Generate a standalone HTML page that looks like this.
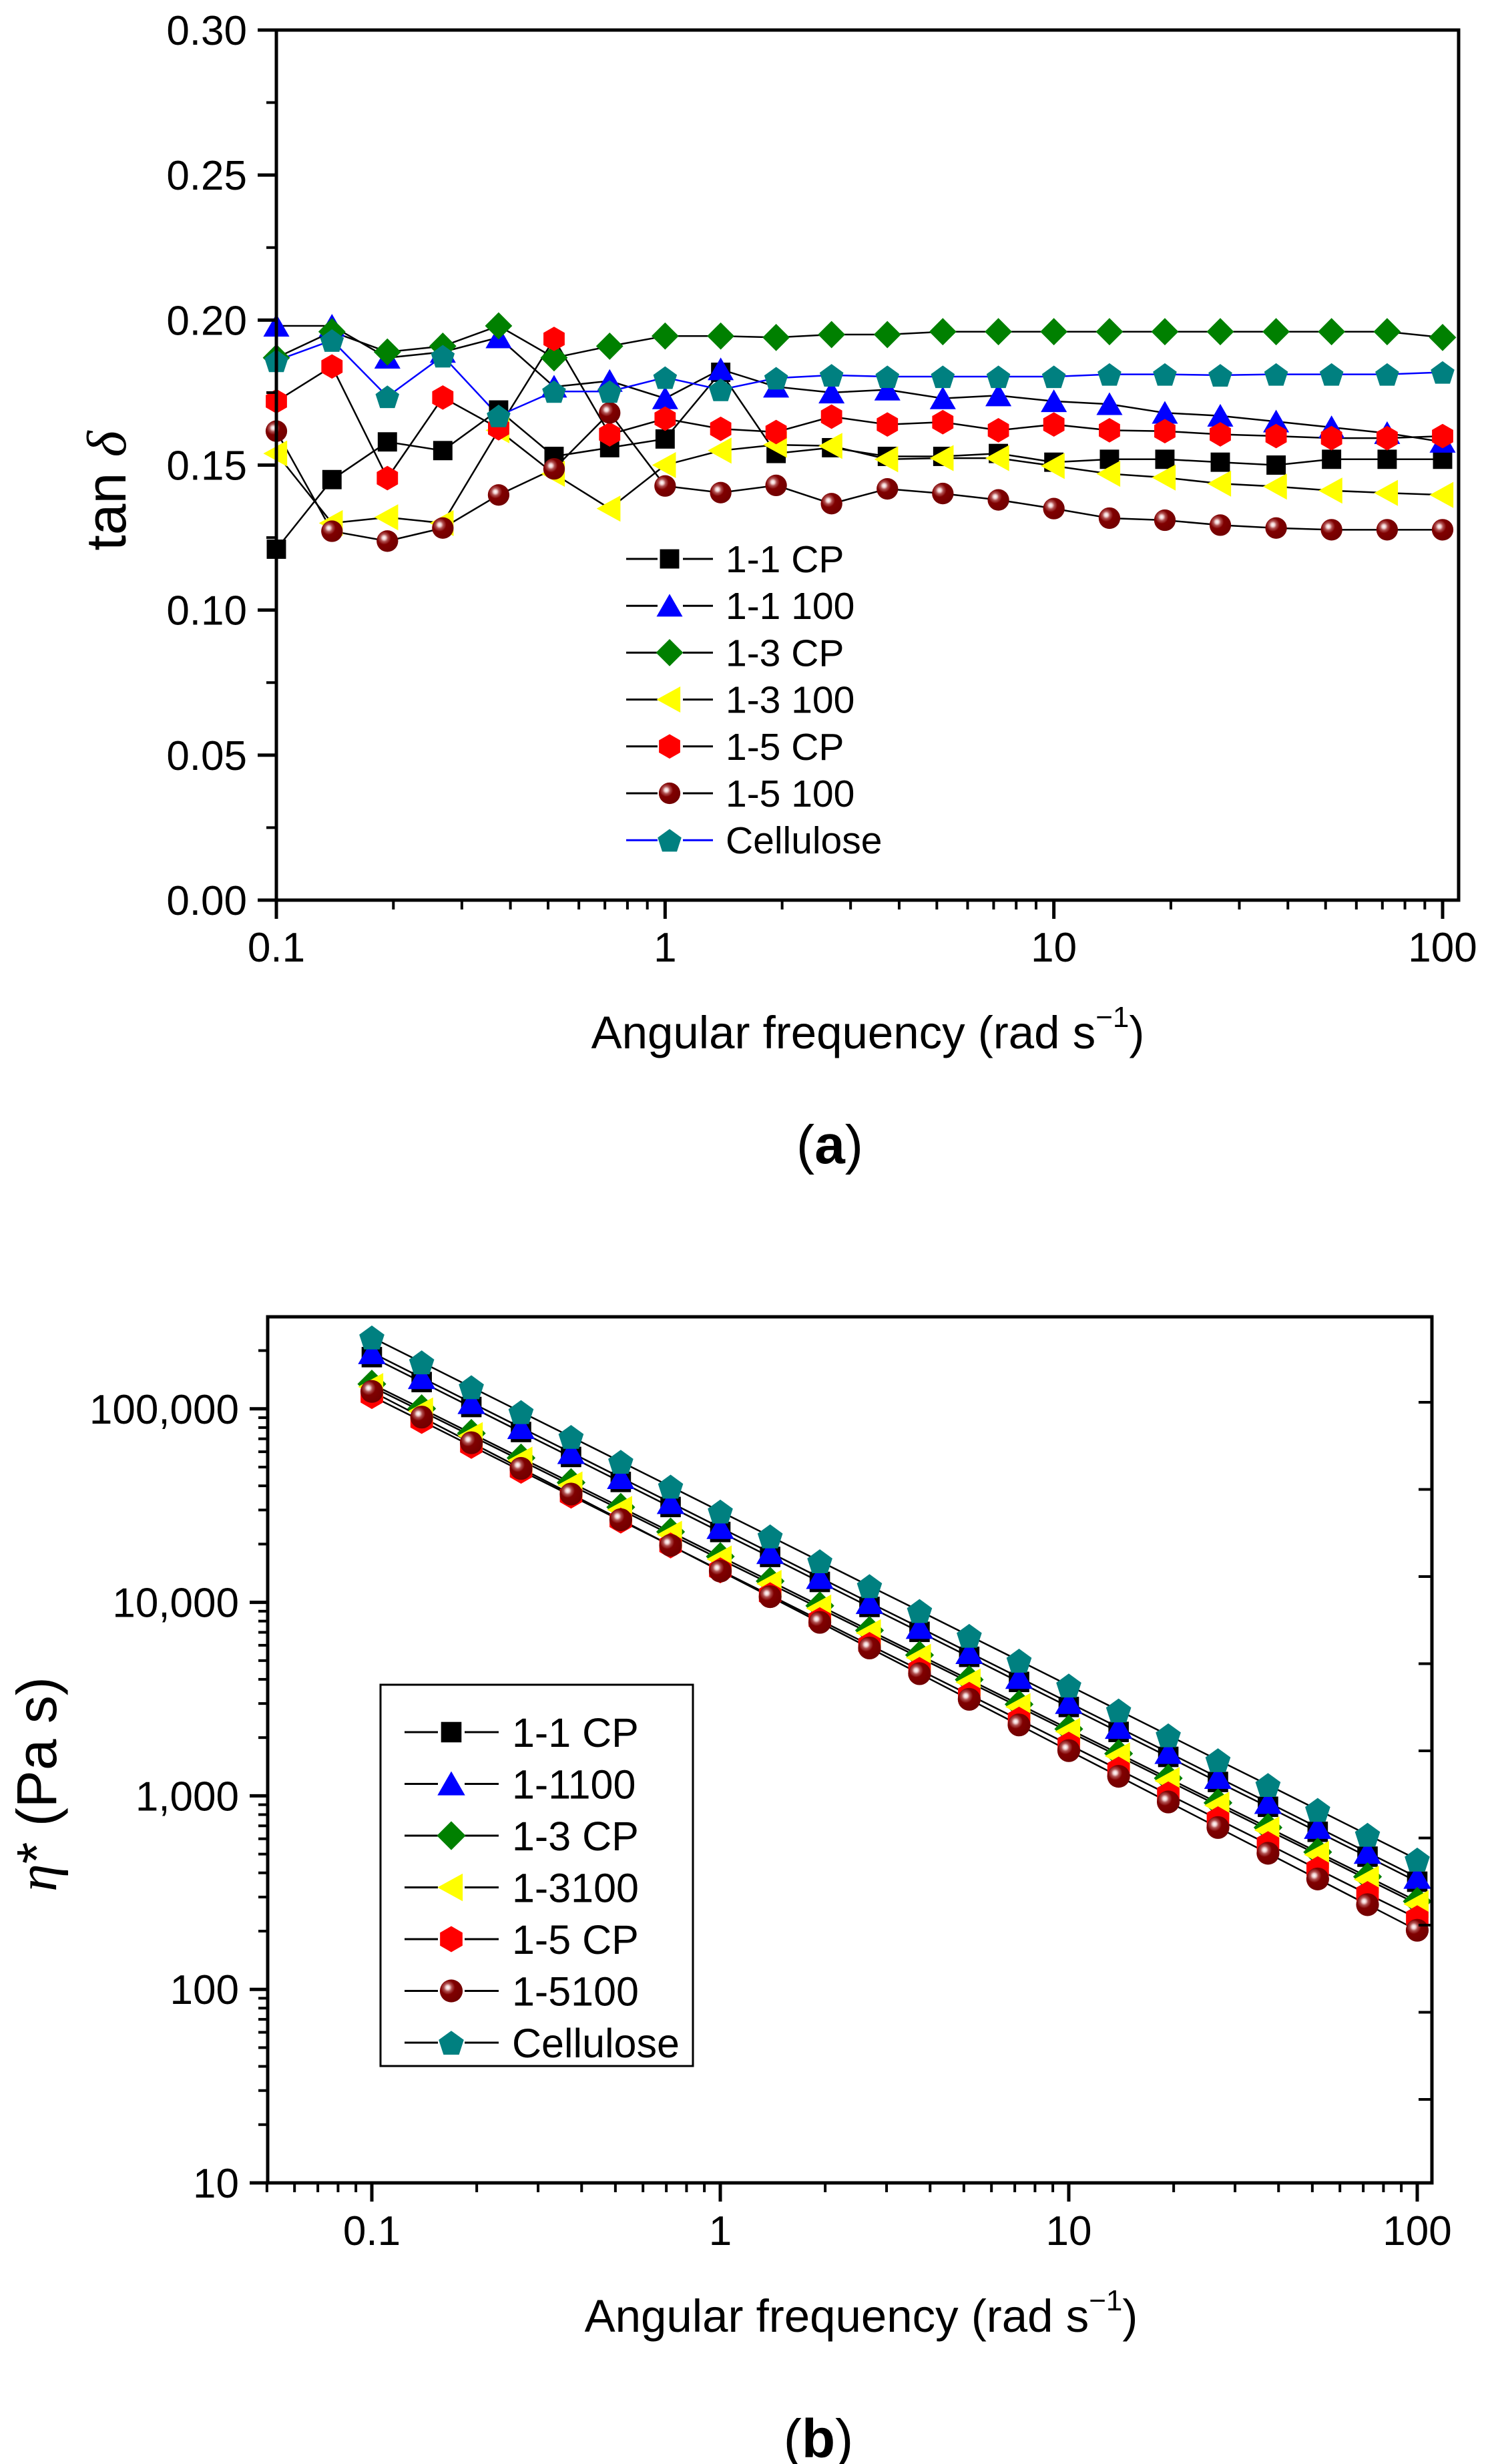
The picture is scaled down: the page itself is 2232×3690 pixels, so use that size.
<!DOCTYPE html>
<html><head><meta charset="utf-8"><style>
html,body{margin:0;padding:0;background:#fff;}
svg{display:block;}
text{font-family:"Liberation Sans",sans-serif;fill:#000;}
</style></head><body>
<svg id="fig" xmlns="http://www.w3.org/2000/svg" width="2232" height="3690" viewBox="0 0 2232 3690">
<defs>
<radialGradient id="sph" cx="0.35" cy="0.35" r="0.7">
<stop offset="0" stop-color="#ffffff"/><stop offset="0.12" stop-color="#f0d0d0"/><stop offset="0.25" stop-color="#b05050"/><stop offset="0.45" stop-color="#800000"/><stop offset="1" stop-color="#700000"/>
</radialGradient>
</defs>
<g id="chartA"></g>
<g id="chartB"></g>
</svg>
<script>
const freqs = [0.1,0.139,0.193,0.268,0.373,0.518,0.720,1,1.39,1.93,2.68,3.73,5.18,7.20,10,13.9,19.3,26.8,37.3,51.8,72.0,100];
const seriesNames = ["1-1 CP","1-1 100","1-3 CP","1-3 100","1-5 CP","1-5 100","Cellulose"];
const seriesNamesB = ["1-1 CP","1-1100","1-3 CP","1-3100","1-5 CP","1-5100","Cellulose"];
const tanA_11CP  = [0.121,0.145,0.158,0.155,0.169,0.153,0.156,0.159,0.182,0.154,0.156,0.153,0.153,0.154,0.151,0.152,0.152,0.151,0.150,0.152,0.152,0.152];
const tanA_11100 = [0.198,0.198,0.187,0.189,0.194,0.177,0.179,0.173,0.183,0.177,0.175,0.176,0.173,0.174,0.172,0.171,0.168,0.167,0.165,0.163,0.161,0.158];
const tanA_13CP  = [0.187,0.196,0.189,0.191,0.198,0.187,0.191,0.1945,0.1945,0.194,0.195,0.195,0.196,0.196,0.196,0.196,0.196,0.196,0.196,0.196,0.196,0.194];
const tanA_13100 = [0.154,0.130,0.132,0.130,0.162,0.147,0.135,0.150,0.155,0.157,0.1566,0.152,0.1524,0.1524,0.1497,0.147,0.1457,0.1436,0.1426,0.1412,0.1404,0.1397];
const tanA_15CP  = [0.172,0.184,0.1455,0.1733,0.1627,0.1935,0.1606,0.166,0.1625,0.1614,0.1667,0.164,0.1648,0.162,0.164,0.162,0.1617,0.1606,0.160,0.1593,0.1593,0.160];
const tanA_15100 = [0.1617,0.1272,0.1238,0.1283,0.1397,0.1487,0.168,0.1428,0.1405,0.143,0.1367,0.1418,0.1402,0.138,0.135,0.1317,0.131,0.1293,0.1283,0.1277,0.1277,0.1277];
const tanA_Cell  = [0.186,0.193,0.1736,0.1876,0.167,0.1754,0.1754,0.1802,0.176,0.180,0.181,0.1805,0.1805,0.1805,0.1805,0.1813,0.1813,0.181,0.1813,0.1813,0.1813,0.182];
const etaB_11CP  = [185000,137500,102200,75900,56400,41900,31100,23100,17170,12750,9470,7040,5230,3880,2880,2140,1590,1180,878,652,485,360];
const etaB_11100 = [195000,144800,107600,79900,59360,44090,32750,24330,18070,13420,9970,7410,5500,4090,3035,2255,1675,1244,924,686,510,379];
const etaB_13CP  = [134300,100200,74730,55740,41580,31010,23130,17250,12870,9600,7160,5340,3985,2972,2217,1654,1233,920,686,512,382,285];
const etaB_13100 = [130000,97200,72500,54100,40300,30100,22400,16700,12480,9310,6950,5180,3865,2883,2150,1604,1196,892,665,497,370,276];
const etaB_15CP  = [116400,86550,64360,47860,35590,26460,19680,14630,10880,8090,6020,4475,3328,2475,1840,1368,1018,757,563,418,311,233];
const etaB_15100 = [123000,90640,66790,49220,36270,26730,19700,14510,10700,7880,5810,4280,3155,2325,1713,1262,930,686,505,372,274,202];
const etaB_Cell  = [233900,174000,129400,96300,71640,53290,39650,29490,21940,16320,12140,9030,6720,5000,3720,2765,2057,1530,1139,847,630,469];
const yTicksA = [0.00,0.05,0.10,0.15,0.20,0.25,0.30];
const yTickLabelsA = ["0.00","0.05","0.10","0.15","0.20","0.25","0.30"];
const yTicksB = [10,100,1000,10000,100000];
const yTickLabelsB = ["10","100","1,000","10,000","100,000"];
const xTicks = [0.1,1,10,100];
const xTickLabels = ["0.1","1","10","100"];

const NS="http://www.w3.org/2000/svg";
function mk(parent,tag,attrs){const e=document.createElementNS(NS,tag);for(const k in attrs)e.setAttribute(k,attrs[k]);parent.appendChild(e);return e;}

const styles = [
 {shape:"square",fill:"#000000"},
 {shape:"triup",fill:"#0000ff"},
 {shape:"diamond",fill:"#008000"},
 {shape:"trileft",fill:"#ffff00"},
 {shape:"hex",fill:"#ff0000"},
 {shape:"sphere",fill:"url(#sph)"},
 {shape:"pent",fill:"#008080"}
];
function marker(parent,shape,fill,cx,cy,s){
  let e;
  const r=s/2;
  if(shape==="square") e=mk(parent,"rect",{x:cx-r*0.85,y:cy-r*0.85,width:r*1.7,height:r*1.7,fill:fill});
  else if(shape==="triup") e=mk(parent,"polygon",{points:`${cx},${cy-r*1.05} ${cx+r*1.15},${cy+r*0.95} ${cx-r*1.15},${cy+r*0.95}`,fill:fill});
  else if(shape==="trileft") e=mk(parent,"polygon",{points:`${cx-r*1.15},${cy} ${cx+r*0.95},${cy-r*1.15} ${cx+r*0.95},${cy+r*1.15}`,fill:fill});
  else if(shape==="diamond") e=mk(parent,"polygon",{points:`${cx},${cy-r*1.2} ${cx+r*1.2},${cy} ${cx},${cy+r*1.2} ${cx-r*1.2},${cy}`,fill:fill});
  else if(shape==="hex"){let p=[];for(let i=0;i<6;i++){const a=Math.PI/6+i*Math.PI/3;p.push((cx+r*Math.cos(a)*1.08)+","+(cy+r*Math.sin(a)*1.08));}e=mk(parent,"polygon",{points:p.join(" "),fill:fill});}
  else if(shape==="sphere") e=mk(parent,"circle",{cx:cx,cy:cy,r:r*0.95,fill:fill});
  else if(shape==="pent"){let p=[];for(let i=0;i<5;i++){const a=-Math.PI/2+i*2*Math.PI/5;p.push((cx+r*1.1*Math.cos(a))+","+(cy+r*1.1*Math.sin(a)+2));}e=mk(parent,"polygon",{points:p.join(" "),fill:fill});}
  return e;
}

(function(){
  const g=document.getElementById("chartA");
  const L=414,R=2185,T=45,B=1348;
  const x0=414,x100=2161;
  const X=v=>x0+(Math.log10(v)+1)*(x100-x0)/3;
  const Y=v=>B-(v/0.30)*(B-T);
  const dataA=[tanA_11CP,tanA_11100,tanA_13CP,tanA_13100,tanA_15CP,tanA_15100,tanA_Cell];
  dataA.forEach((arr,si)=>{
    const pts=arr.map((v,i)=>X(freqs[i]).toFixed(1)+","+Y(v).toFixed(1)).join(" ");
    const pl=mk(g,"polyline",{points:pts,fill:"none",stroke:si===6?"#0000ff":"#000",'stroke-width':2.5});
    
    
  });
  dataA.forEach((arr,si)=>{
    arr.forEach((v,i)=>{
      const m=marker(g,styles[si].shape,styles[si].fill,X(freqs[i]),Y(v),34);
      
      
    });
  });
  const fr=mk(g,"rect",{x:L,y:T,width:R-L,height:B-T,fill:"none",stroke:"#000",'stroke-width':5});
  
  
  yTicksA.forEach((v,i)=>{
    mk(g,"line",{x1:L-28,x2:L,y1:Y(v),y2:Y(v),stroke:"#000",'stroke-width':5});
    const t=mk(g,"text",{x:370,y:Y(v)+22,'font-size':62,'text-anchor':'end'});
    t.textContent=yTickLabelsA[i];
    
    
    if(i<yTicksA.length-1){const mv=v+0.025;mk(g,"line",{x1:L-15,x2:L,y1:Y(mv),y2:Y(mv),stroke:"#000",'stroke-width':4});}
  });
  xTicks.forEach((v,i)=>{
    mk(g,"line",{x1:X(v),x2:X(v),y1:B,y2:B+28,stroke:"#000",'stroke-width':5});
    const t=mk(g,"text",{x:X(v),y:1440,'font-size':62,'text-anchor':'middle'});
    t.textContent=xTickLabels[i];
    
    
    if(v<100){for(let k=2;k<=9;k++){const xv=X(v*k);mk(g,"line",{x1:xv,x2:xv,y1:B,y2:B+14,stroke:"#000",'stroke-width':4});}}
  });
  const xt=mk(g,"text",{x:1300,y:1570,'font-size':69,'text-anchor':'middle'});
  xt.innerHTML='Angular frequency (rad s<tspan dy="-32" font-size="44">−1</tspan><tspan dy="32">)</tspan>';
  
  
  const yt=mk(g,"text",{x:0,y:0,'font-size':84,'text-anchor':'middle',transform:'translate(188,735) rotate(-90)'});
  yt.innerHTML='tan <tspan font-family="Liberation Serif, serif" font-style="italic">δ</tspan>';
  
  
  const cap=mk(g,"text",{x:1243,y:1742,'font-size':82,'text-anchor':'middle','font-family':'Liberation Serif, serif'});
  cap.innerHTML='(<tspan font-weight="bold">a</tspan>)';
  
  
  const lg=mk(g,"g",{});
  
  
  seriesNames.forEach((n,si)=>{
    const y=837+si*70.2;
    const col=si===6?"#0000ff":"#000";
    mk(lg,"line",{x1:938,x2:985,y1:y,y2:y,stroke:col,'stroke-width':3});
    mk(lg,"line",{x1:1023,x2:1068,y1:y,y2:y,stroke:col,'stroke-width':3});
    marker(lg,styles[si].shape,styles[si].fill,1003,y,34);
    const t=mk(lg,"text",{x:1087,y:y+20,'font-size':57});
    t.textContent=n;
    
    
  });
})();

(function(){
  const g=document.getElementById("chartB");
  const L=401,R=2145,T=1972,B=3269;
  const x01=557,x100=2123;
  const dec=(x100-x01)/3;
  const X=v=>x01+(Math.log10(v)+1)*dec;
  const ydec=289.8;
  const Y=v=>B-(Math.log10(v)-1)*ydec;
  const dataB=[etaB_11CP,etaB_11100,etaB_13CP,etaB_13100,etaB_15CP,etaB_15100,etaB_Cell];
  dataB.forEach((arr,si)=>{
    const pts=arr.map((v,i)=>X(freqs[i]).toFixed(1)+","+Y(v).toFixed(1)).join(" ");
    const pl=mk(g,"polyline",{points:pts,fill:"none",stroke:"#000",'stroke-width':2.5});
    
    
  });
  dataB.forEach((arr,si)=>{
    arr.forEach((v,i)=>{
      const m=marker(g,styles[si].shape,styles[si].fill,X(freqs[i]),Y(v),36);
      
      
    });
  });
  const fr=mk(g,"rect",{x:L,y:T,width:R-L,height:B-T,fill:"none",stroke:"#000",'stroke-width':5});
  
  
  yTicksB.forEach((v,i)=>{
    mk(g,"line",{x1:L-27,x2:L,y1:Y(v),y2:Y(v),stroke:"#000",'stroke-width':5});
    const t=mk(g,"text",{x:358,y:Y(v)+22,'font-size':62,'text-anchor':'end'});
    t.textContent=yTickLabelsB[i];
    
    
    for(let k=2;k<=9;k++){const yv=Y(v*k);if(yv>T)mk(g,"line",{x1:L-14,x2:L,y1:yv,y2:yv,stroke:"#000",'stroke-width':4});}
  });
  for(let k=0;k<9;k++){const y=2100+130.5*k;mk(g,"line",{x1:R-20,x2:R,y1:y,y2:y,stroke:"#000",'stroke-width':4});}
  [0.05,0.06,0.07,0.08,0.09].forEach(v=>{mk(g,"line",{x1:X(v),x2:X(v),y1:B,y2:B+14,stroke:"#000",'stroke-width':4});});
  xTicks.forEach((v,i)=>{
    mk(g,"line",{x1:X(v),x2:X(v),y1:B,y2:B+28,stroke:"#000",'stroke-width':5});
    const t=mk(g,"text",{x:X(v),y:3362,'font-size':62,'text-anchor':'middle'});
    t.textContent=xTickLabels[i];
    
    
    if(v<100){for(let k=2;k<=9;k++){const xv=X(v*k);mk(g,"line",{x1:xv,x2:xv,y1:B,y2:B+14,stroke:"#000",'stroke-width':4});}}
  });
  const xt=mk(g,"text",{x:1290,y:3492,'font-size':69,'text-anchor':'middle'});
  xt.innerHTML='Angular frequency (rad s<tspan dy="-32" font-size="44">−1</tspan><tspan dy="32">)</tspan>';
  
  
  const yt=mk(g,"text",{x:0,y:0,'font-size':84,'text-anchor':'middle',transform:'translate(84,2672) rotate(-90)'});
  yt.innerHTML='<tspan font-family="Liberation Serif, serif" font-style="italic">η</tspan>* (Pa s)';
  
  
  const cap=mk(g,"text",{x:1226,y:3680,'font-size':82,'text-anchor':'middle','font-family':'Liberation Serif, serif'});
  cap.innerHTML='(<tspan font-weight="bold">b</tspan>)';
  
  
  const lg=mk(g,"g",{});
  
  
  mk(lg,"rect",{x:570,y:2523,width:468,height:571,fill:"#fff",stroke:"#000",'stroke-width':3});
  seriesNamesB.forEach((n,si)=>{
    const y=2594+si*77.5;
    mk(lg,"line",{x1:606,x2:656,y1:y,y2:y,stroke:"#000",'stroke-width':3});
    mk(lg,"line",{x1:696,x2:747,y1:y,y2:y,stroke:"#000",'stroke-width':3});
    marker(lg,styles[si].shape,styles[si].fill,676,y,36);
    const t=mk(lg,"text",{x:767,y:y+22,'font-size':61});
    t.textContent=n;
    
    
  });
})();
</script>
</body></html>
